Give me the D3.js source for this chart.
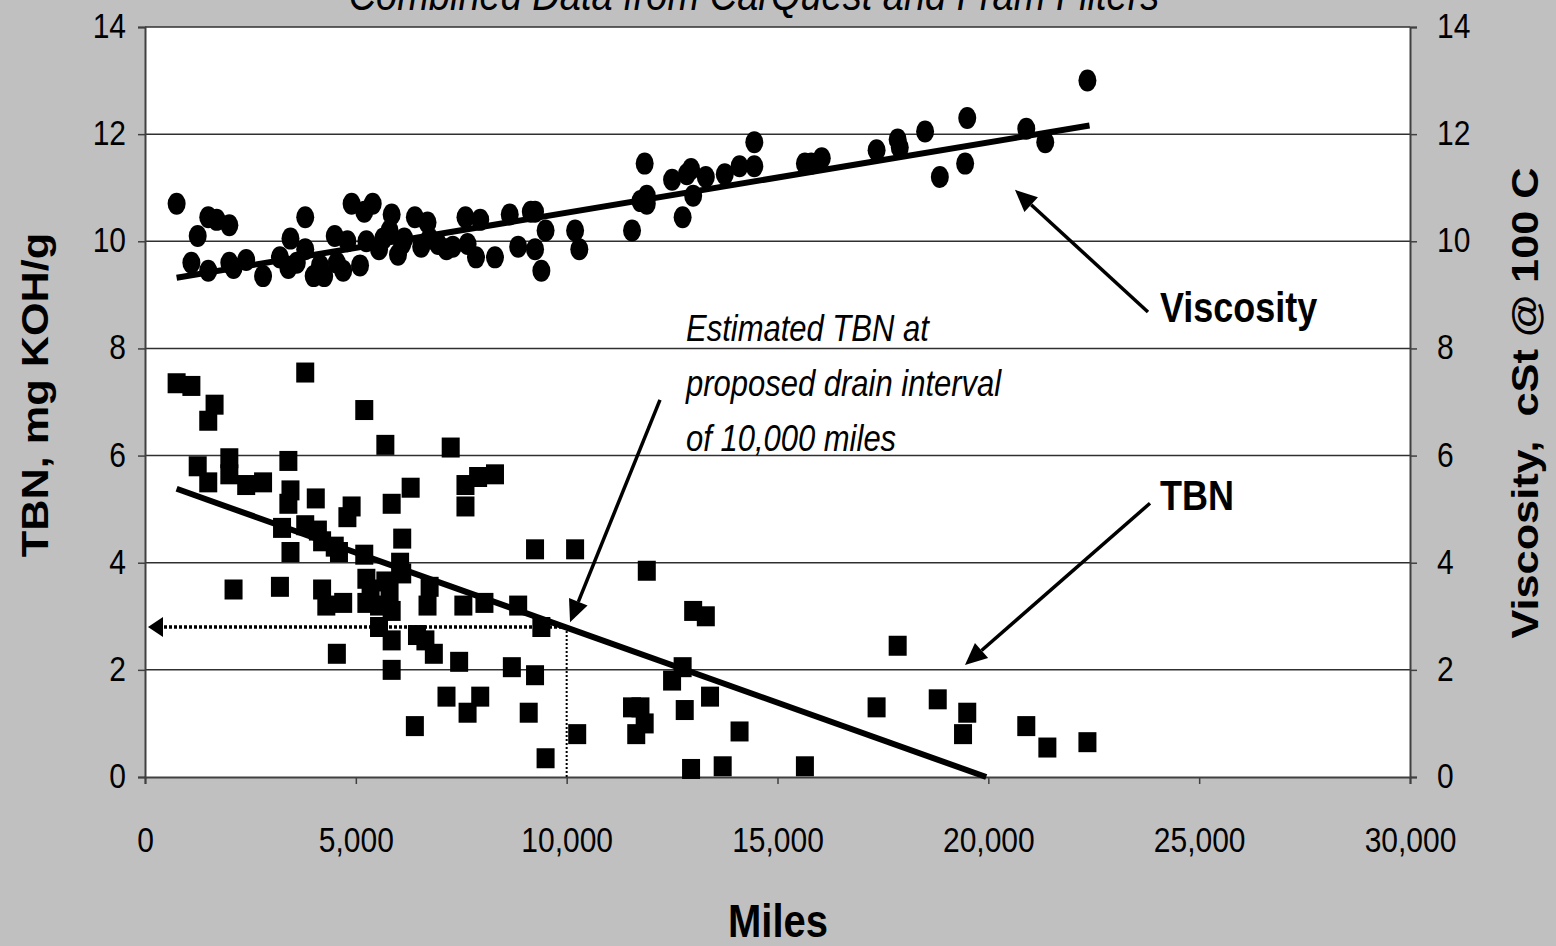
<!DOCTYPE html>
<html><head><meta charset="utf-8">
<script src="https://cdn.jsdelivr.net/npm/d3@7"></script>
<style>
html,body{margin:0;padding:0;background:#c0c0c0;}
svg{display:block;font-family:"Liberation Sans",Arial,sans-serif;}
</style></head><body>
<svg id="chart" width="1556" height="946"></svg>
<script>
// ---- data ----
const titleText = "Combined Data from CarQuest and Fram Filters";
const xTicks = [0, 5000, 10000, 15000, 20000, 25000, 30000];
const yTicks = [0, 2, 4, 6, 8, 10, 12, 14];

const viscMiles = [750,1100,1250,1500,1700,1500,2000,2000,2100,2400,2800,3200,3400,3450,3600,3800,3800,4000,4150,4250,4500,4550,4700,4800,4900,5100,5200,5250,5400,5550,5650,5850,5800,6000,6100,6150,6400,6550,6700,6750,6950,7150,7300,7600,7650,7850,7950,8300,8650,8850,9150,9250,9250,9400,9500,10200,10300,11550,11750,11900,11850,11900,12500,12750,12850,12950,13000,13300,13750,14100,14450,14450,15650,15800,16050,17350,17850,17900,18500,18850,19450,19500,20900,21350,22350];
const viscValues = [10.7,9.6,10.1,10.45,10.4,9.45,10.3,9.6,9.5,9.65,9.35,9.7,9.5,10.05,9.6,10.45,9.85,9.35,9.55,9.35,10.1,9.6,9.45,10.0,10.7,9.55,10.55,10.0,10.7,9.85,10.05,10.5,10.2,9.75,9.95,10.05,10.45,9.9,10.35,10.05,9.95,9.85,9.9,10.45,9.95,9.7,10.4,9.7,10.5,9.9,10.55,10.55,9.85,9.45,10.2,10.2,9.85,10.2,10.75,10.7,11.45,10.85,11.15,10.45,11.25,11.35,10.85,11.2,11.25,11.4,11.4,11.85,11.45,11.45,11.55,11.7,11.9,11.75,12.05,11.2,11.45,12.3,12.1,11.85,13.0];

const tbnMiles = [750,1100,1500,1650,1250,1500,2000,2000,2100,2400,2800,3200,3250,3400,3450,3450,3400,3800,3800,4050,4100,4200,4300,4200,4500,4550,4600,4700,4800,4900,5200,5200,5250,5250,5350,5550,5550,5700,5700,5800,5850,5850,5850,5850,6050,6100,6100,6300,6400,6450,6650,6700,6750,6850,7150,7250,7450,7550,7600,7600,7650,7900,7950,8050,8300,8700,8850,9100,9250,9250,9400,9500,10200,10250,11550,11650,11750,11850,11900,12500,12750,12800,12950,13000,13300,13400,13700,14100,15650,17350,17850,18800,19400,19500,20900,21400,22350];
const tbnValues = [7.35,7.3,6.65,6.95,5.8,5.5,5.95,5.65,3.5,5.45,5.5,3.55,4.65,5.9,5.35,4.2,5.1,7.55,4.7,5.2,4.6,3.5,3.2,4.4,4.3,2.3,4.2,3.25,4.85,5.05,6.85,4.15,3.7,3.25,3.5,3.2,2.8,6.2,3.65,3.45,5.1,3.1,2.55,2.0,4.0,4.45,3.8,5.4,0.95,2.65,2.55,3.2,3.55,2.3,1.5,6.15,2.15,3.2,5.45,5.05,1.2,5.6,1.5,3.25,5.65,2.05,3.2,1.2,1.9,4.25,2.8,0.35,4.25,0.8,1.3,0.8,1.3,1.0,3.85,1.8,2.05,1.25,0.15,3.1,3.0,1.5,0.2,0.85,0.2,1.3,2.45,1.45,0.8,1.2,0.95,0.55,0.65];

const viscTrend = [[750, 9.32], [22400, 12.16]];
const tbnTrend = [[750, 5.38], [19950, 0]];

const estimateMiles = 10000, estimateTBN = 2.8;

// ---- layout ----
const S = 1.17; // vertical text stretch seen in the reference
const svg = d3.select("#chart");
const L = 145, R = 1410, T = 27, B = 777;
const x = d3.scaleLinear().domain([0, 30000]).range([L, R]);
const y = d3.scaleLinear().domain([0, 14]).range([B, T]);
const y2 = d3.scaleLinear().domain([0, 14]).range([B, T]);

svg.append("rect").attr("width", 1556).attr("height", 946).attr("fill", "#c0c0c0");
svg.append("rect").attr("x", L).attr("y", T).attr("width", R - L).attr("height", B - T).attr("fill", "#ffffff");

// gridlines
svg.append("g").selectAll("line").data(yTicks.filter(d => d > 0)).join("line")
  .attr("x1", L).attr("x2", R).attr("y1", d => y(d)).attr("y2", d => y(d))
  .attr("stroke", "#303030").attr("stroke-width", 1.5);

// axes
const fmt = d3.format(",");
const gx = svg.append("g").attr("transform", `translate(0,${B})`)
  .call(d3.axisBottom(x).tickValues(xTicks).tickFormat(fmt).tickSize(7));
const gy = svg.append("g").attr("transform", `translate(${L},0)`)
  .call(d3.axisLeft(y).tickValues(yTicks).tickSize(7).tickPadding(12));
const gy2 = svg.append("g").attr("transform", `translate(${R},0)`)
  .call(d3.axisRight(y2).tickValues(yTicks).tickSize(7).tickPadding(20));
[gx, gy, gy2].forEach(g => {
  g.select(".domain").attr("stroke", "#404040").attr("stroke-width", 2);
  g.selectAll(".tick line").attr("stroke", "#404040").attr("stroke-width", 1.5);
  g.selectAll(".tick text").attr("font-size", 30).attr("fill", "#000")
    .attr("font-family", "Liberation Sans, Arial, sans-serif");
});
gx.selectAll(".tick text").attr("y", 0).attr("dy", 0).attr("transform", `translate(0,75) scale(1,${S})`);
gy.selectAll(".tick text").attr("transform", `scale(1,${S})`).attr("dy", "0.3em");
gy2.selectAll(".tick text").attr("transform", `scale(1,${S})`).attr("dy", "0.3em");

// trend lines
const line = d3.line().x(d => x(d[0])).y(d => y(d[1]));
svg.append("path").attr("d", line(viscTrend)).attr("stroke", "#000").attr("stroke-width", 6).attr("fill", "none");
svg.append("path").attr("d", line(tbnTrend)).attr("stroke", "#000").attr("stroke-width", 6).attr("fill", "none");

// markers
svg.append("g").selectAll("ellipse").data(viscMiles.map((m, i) => [m, viscValues[i]])).join("ellipse")
  .attr("cx", d => x(d[0])).attr("cy", d => y2(d[1])).attr("rx", 9).attr("ry", 11).attr("fill", "#000");
svg.append("g").selectAll("rect").data(tbnMiles.map((m, i) => [m, tbnValues[i]])).join("rect")
  .attr("x", d => x(d[0]) - 9).attr("y", d => y(d[1]) - 10).attr("width", 18).attr("height", 20).attr("fill", "#000");

// dotted estimate lines
svg.append("line").attr("x1", x(0) + 14).attr("x2", x(estimateMiles)).attr("y1", y(estimateTBN)).attr("y2", y(estimateTBN))
  .attr("stroke", "#000").attr("stroke-width", 3.5).attr("stroke-dasharray", "3,2");
svg.append("line").attr("x1", x(estimateMiles)).attr("x2", x(estimateMiles)).attr("y1", y(estimateTBN)).attr("y2", y(0))
  .attr("stroke", "#000").attr("stroke-width", 2).attr("stroke-dasharray", "2,2");
svg.append("path")
  .attr("d", `M${x(0)+3},${y(estimateTBN)} L${x(0)+18},${y(estimateTBN)-10} L${x(0)+18},${y(estimateTBN)+10} Z`)
  .attr("fill", "#000");

// arrows
function arrow(from, to) {
  const x1 = x(from[0]), y1 = y(from[1]), x2 = x(to[0]), y2p = y(to[1]);
  const ang = Math.atan2(y2p - y1, x2 - x1);
  const len = 22, w = 10;
  const bx = x2 - len * Math.cos(ang), by = y2p - len * Math.sin(ang);
  svg.append("line").attr("x1", x1).attr("y1", y1).attr("x2", bx).attr("y2", by)
    .attr("stroke", "#000").attr("stroke-width", 3.5);
  const px = -Math.sin(ang) * w, py = Math.cos(ang) * w;
  svg.append("path").attr("d", `M${x2},${y2p} L${bx + px},${by + py} L${bx - px},${by - py} Z`).attr("fill", "#000");
}
arrow([12213, 7.04], [10080, 2.89]);
arrow([23786, 8.68], [20632, 10.96]);
arrow([23834, 5.11], [19446, 2.09]);

// stretched text helper
function addText(px, py, str, size, opts = {}) {
  const t = svg.append("text")
    .attr("transform", `translate(${px},${py}) scale(1,${S})` + (opts.rotate ? " rotate(-90)" : ""))
    .attr("font-size", size)
    .attr("text-anchor", opts.anchor || "start")
    .attr("fill", "#000")
    .style("white-space", "pre")
    .text(str);
  if (opts.italic) t.attr("font-style", "italic");
  if (opts.bold) t.attr("font-weight", "bold");
  return t;
}

// annotation texts
const noteLines = ["Estimated TBN at", "proposed drain interval", "of 10,000 miles"];
noteLines.forEach((d, i) => addText(x(12830), y(8.14) + i * 55, d, 31, {italic: true}));
addText(x(24071), y(8.49), "Viscosity", 36, {bold: true});
addText(x(24071), y(4.98), "TBN", 36, {bold: true});

// titles
addText(754, 10, titleText, 38, {italic: true, anchor: "middle"});
addText(778, 937, "Miles", 40, {bold: true, anchor: "middle"});
addText(48, 395, "TBN, mg KOH/g", 37, {bold: true, anchor: "middle", rotate: true});
addText(1538, 403, "Viscosity,  cSt @ 100 C", 37, {bold: true, anchor: "middle", rotate: true});
</script>
</body></html>
